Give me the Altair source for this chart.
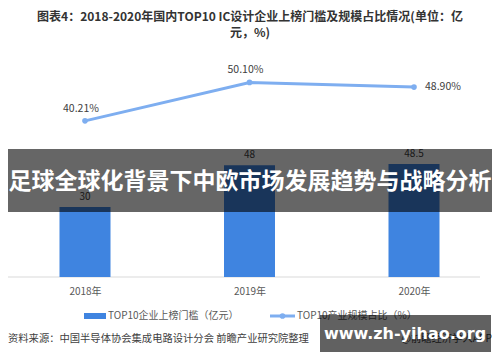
import altair as alt
import pandas as pd

years = ["2018年", "2019年", "2020年"]
threshold = [30, 48, 48.5]
share = [40.21, 50.10, 48.90]
share_labels = ["40.21%", "50.10%", "48.90%"]
label_pos = ["above", "above", "right"]

title_lines = ["图表4：2018-2020年国内TOP10 IC设计企业上榜门槛及规模占比情况(单位：亿", "元，%)"]
legend_bar = "TOP10企业上榜门槛（亿元）"
legend_line = "TOP10产业规模占比（%）"
source = "资料来源：中国半导体协会集成电路设计分会 前瞻产业研究院整理"
source_right = "@前瞻经济学人APP"
banner = "足球全球化背景下中欧市场发展趋势与战略分析"
watermark = "www.zh-yihao.org"

df = pd.DataFrame({"year": years, "threshold": threshold, "share": share,
                   "label": share_labels, "pos": label_pos})
one = pd.DataFrame({"k": [0]})

FONT = "Noto Sans CJK SC"
BAR = "#3F84E0"
LINE = "#7EAEF0"
TXT = "#404040"

x = alt.X("year:N", sort=years,
          scale=alt.Scale(type="point", range=[77, 406], padding=0),
          axis=alt.Axis(title=None, domain=False, ticks=False, labelAngle=0,
                        labelFont=FONT, labelFontSize=10, labelColor="#595959",
                        labelPadding=9, offset=-77))
ybar = alt.Y("threshold:Q", scale=alt.Scale(domain=[0, 100], range=[269, 36]), axis=None)
yline = alt.Y("share:Q", scale=alt.Scale(domain=[0, 60], range=[269, 36]), axis=None)

bars = alt.Chart(df).mark_bar(size=51, color=BAR).encode(x=x, y=ybar)
bar_text = alt.Chart(df).mark_text(dy=-10, font=FONT, fontSize=10, color=TXT).encode(
    x=x, y=ybar, text=alt.Text("threshold:Q"))

baseline = alt.Chart(one).mark_rule(color="#d9d9d9", strokeWidth=1).encode(
    x=alt.value(-5), x2=alt.value(472), y=alt.value(269))

line = alt.Chart(df).mark_line(
    color=LINE, strokeWidth=3,
    point=alt.OverlayMarkDef(color=LINE, size=32, filled=True, opacity=1)
).encode(x=x, y=yline)

lab_above = alt.Chart(df).transform_filter("datum.pos == 'above'").mark_text(
    dx=-4, dy=-12, font=FONT, fontSize=10.5, color=TXT).encode(x=x, y=yline, text="label:N")
lab_right = alt.Chart(df).transform_filter("datum.pos == 'right'").mark_text(
    dx=11, align="left", font=FONT, fontSize=10.5, color=TXT).encode(x=x, y=yline, text="label:N")

title = alt.Chart(one).mark_text(text=title_lines, lineHeight=16, font=FONT, fontSize=12,
                                 fontWeight="bold", color="#333333", baseline="middle").encode(
    x=alt.value(242), y=alt.value(9))

leg_rect = alt.Chart(one).mark_rect(color=BAR).encode(
    x=alt.value(76), x2=alt.value(98), y=alt.value(305), y2=alt.value(311))
leg_t1 = alt.Chart(one).mark_text(text=legend_bar, align="left", font=FONT, fontSize=10,
                                  color="#595959").encode(x=alt.value(100), y=alt.value(308))
leg_line = alt.Chart(one).mark_rule(color=LINE, strokeWidth=3).encode(
    x=alt.value(262), x2=alt.value(287), y=alt.value(308))
leg_dot = alt.Chart(one).mark_point(color=LINE, filled=True, size=32, opacity=1).encode(
    x=alt.value(274.5), y=alt.value(308))
leg_t2 = alt.Chart(one).mark_text(text=legend_line, align="left", font=FONT, fontSize=10,
                                  color="#595959").encode(x=alt.value(289), y=alt.value(308))

src = alt.Chart(one).mark_text(text=source, align="left", font=FONT, fontSize=10.3,
                               color=TXT).encode(x=alt.value(0), y=alt.value(331))
src_r = alt.Chart(one).mark_text(text=source_right, align="right", font=FONT, fontSize=10.3,
                                 color=TXT).encode(x=alt.value(484), y=alt.value(331))

ban_rect = alt.Chart(one).mark_rect(color="black", opacity=0.6).encode(
    x=alt.value(0), x2=alt.value(484), y=alt.value(141), y2=alt.value(204))
ban_text = alt.Chart(one).mark_text(text=banner, font=FONT, fontSize=23, fontWeight="bold",
                                    color="white").encode(x=alt.value(242), y=alt.value(174))

wm_rect = alt.Chart(one).mark_rect(color="black", opacity=0.62).encode(
    x=alt.value(312), x2=alt.value(483), y=alt.value(307), y2=alt.value(344))
wm_text = alt.Chart(one).mark_text(text=watermark, font="DejaVu Sans", fontSize=16,
                                   fontWeight="bold", color="white").encode(
    x=alt.value(397), y=alt.value(326))

chart = alt.layer(
    baseline, bars, bar_text, line, lab_above, lab_right, title,
    leg_rect, leg_t1, leg_line, leg_dot, leg_t2, src, src_r,
    ban_rect, ban_text, wm_rect, wm_text
).resolve_scale(y="independent").properties(
    width=484, height=346, padding=0, autosize=alt.AutoSizeParams(type="none"),
    background="white"
).configure_view(strokeWidth=0)

chart.save("out.html", embed_options={"renderer": "svg", "actions": False})
